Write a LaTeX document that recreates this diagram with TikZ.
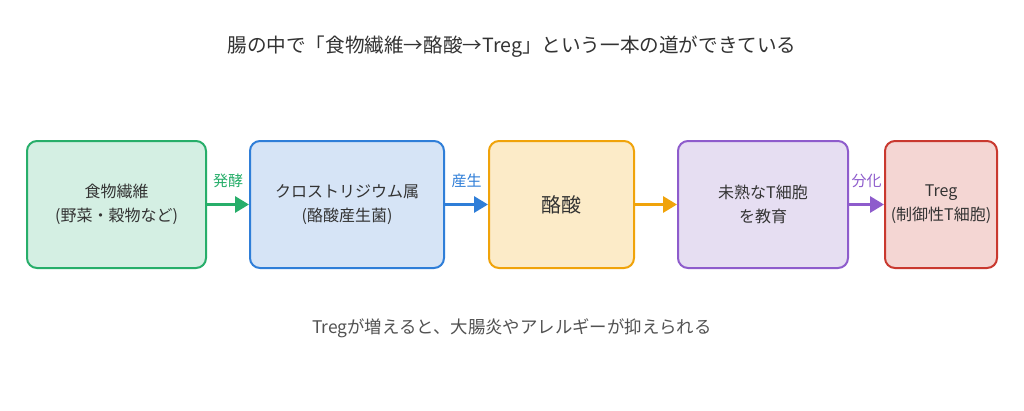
\documentclass[tikz,border=0pt]{standalone}
\usepackage{fontspec}
\setmainfont{Noto Sans CJK JP}
\usetikzlibrary{arrows.meta}
\definecolor{txt}{HTML}{333333}
\definecolor{gB}{HTML}{27AE6A}\definecolor{gF}{HTML}{D4EFE3}
\definecolor{bB}{HTML}{2F7ED8}\definecolor{bF}{HTML}{D6E4F6}
\definecolor{oB}{HTML}{F0A30A}\definecolor{oF}{HTML}{FCEBC8}
\definecolor{pB}{HTML}{8E5CCC}\definecolor{pF}{HTML}{E6DEF2}
\definecolor{rB}{HTML}{C9392F}\definecolor{rF}{HTML}{F4D6D3}
\begin{document}
\begin{tikzpicture}[x=1pt,y=-1pt,
  box/.style={draw,line width=2pt,rounded corners=10pt,minimum height=127pt,align=center,text=txt,font=\fontsize{16}{24}\selectfont,inner sep=0pt},
  conn/.style={line width=3pt,-{Triangle[length=14pt,width=16pt]}},
  lab/.style={font=\fontsize{15}{17}\selectfont}]
\useasboundingbox[fill=white] (0,0) rectangle (1024,410);
\node[text=txt,font=\fontsize{19.6}{22}\selectfont] (title) at (512,47) {腸の中で「食物繊維→酪酸→Treg」という一本の道ができている};
\node[box,draw=gB,fill=gF,minimum width=179pt] (n1) at (116.5,204.5) {食物繊維\\(野菜・穀物など)};
\node[box,draw=bB,fill=bF,minimum width=194pt] (n2) at (347,204.5) {クロストリジウム属\\(酪酸産生菌)};
\node[box,draw=oB,fill=oF,minimum width=145pt,font=\fontsize{20}{24}\selectfont] (n3) at (561.5,204.5) {酪酸};
\node[box,draw=pB,fill=pF,minimum width=170pt] (n4) at (763,204.5) {未熟なT細胞\\を教育};
\node[box,draw=rB,fill=rF,minimum width=112pt] (n5) at (941,204.5) {Treg\\(制御性T細胞)};
\draw[conn,gB] (n1.east) -- (n2.west) node[midway,above=12pt,lab,text=gB] {発酵};
\draw[conn,bB] (n2.east) -- (n3.west) node[midway,above=12pt,lab,text=bB] {産生};
\draw[conn,oB] (n3.east) -- (n4.west);
\draw[conn,pB] (n4.east) -- (n5.west) node[midway,above=12pt,lab,text=pB] {分化};
\node[text=txt!85,font=\fontsize{17.4}{20}\selectfont] (foot) at (512,328) {Tregが増えると、大腸炎やアレルギーが抑えられる};
\end{tikzpicture}
\end{document}
